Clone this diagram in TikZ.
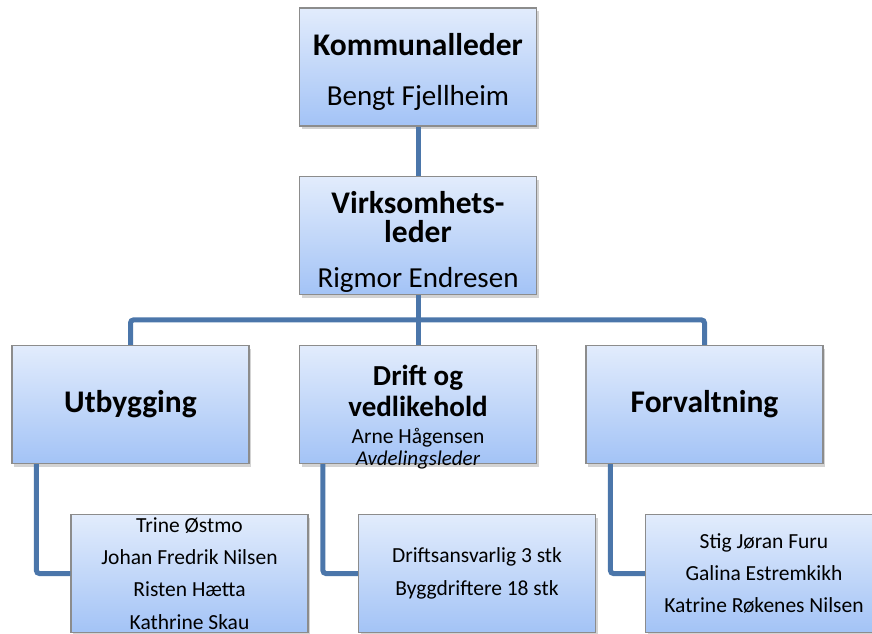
\documentclass[tikz,border=0pt]{standalone}
\usepackage{fontspec}
\setmainfont{Carlito}
\usetikzlibrary{shadows}

\definecolor{linkblue}{RGB}{75,118,170}
\definecolor{boxtop}{RGB}{226,236,252}
\definecolor{boxbottom}{RGB}{163,195,246}
\definecolor{boxedge}{RGB}{140,140,140}

\tikzset{
  box/.style={rectangle, draw=boxedge, line width=1.2pt, top color=boxtop, bottom color=boxbottom,
    minimum width=237pt, minimum height=118pt, align=center, inner sep=0pt,
    drop shadow={shadow xshift=2pt, shadow yshift=-3pt, opacity=0.35}},
  link/.style={draw=linkblue, line width=5pt, rounded corners=3pt},
  headtext/.style={anchor=base, inner sep=0pt, font=\fontsize{31.5}{34}\selectfont\bfseries},
  chieftext/.style={anchor=base, inner sep=0pt, font=\fontsize{29}{32}\selectfont},
  persons/.style={font=\fontsize{21.5}{32.3}\selectfont}
}

\begin{document}
\begin{tikzpicture}[x=1pt, y=-1pt]
  \useasboundingbox (0,0) rectangle (872,633);
  \clip (0,0) rectangle (872,633);

  % boxes
  \node[box] (leader) at (418,67) {};
  \node[box] (virk) at (418,235.5) {};
  \node[box, font=\fontsize{31.5}{34}\selectfont\bfseries] (utb) at (130.5,404.5) {Utbygging};
  \node[box] (drift) at (418,404.5) {};
  \node[box, font=\fontsize{31.5}{34}\selectfont\bfseries] (forv) at (704.5,404.5) {Forvaltning};

  \node[box, persons] (utbsub) at (189.5,573.5) {Trine Østmo\\ Johan Fredrik Nilsen\\ Risten Hætta\\ Kathrine Skau};
  \node[box, persons] (driftsub) at (477,573.5) {Driftsansvarlig 3 stk\\ Byggdriftere 18 stk};
  \node[box, persons] (forvsub) at (764,573.5) {Stig Jøran Furu\\ Galina Estremkikh\\ Katrine Røkenes Nilsen};

  % texts in the upper boxes
  \node[headtext] (leadertitle) at (418,55) {Kommunalleder};
  \node[chieftext] (leadername) at (418,105) {Bengt Fjellheim};
  \node[headtext] (virktitle) at (418,213) {Virksomhets-};
  \node[headtext] (virktitle2) at (418,242) {leder};
  \node[chieftext] (virkname) at (418,287) {Rigmor Endresen};
  \node[headtext, font=\fontsize{29}{32}\selectfont\bfseries] (drifttitle) at (418,385) {Drift og};
  \node[headtext, font=\fontsize{29}{32}\selectfont\bfseries] (drifttitle2) at (418,416) {vedlikehold};
  \node[anchor=base, inner sep=0pt, font=\fontsize{21.5}{24}\selectfont] (driftname) at (418,443) {Arne Hågensen};
  \node[anchor=base, inner sep=0pt, font=\fontsize{21}{24}\selectfont\itshape] (driftrole) at (418,465) {Avdelingsleder};

  % connectors
  \draw[link] (leader.south) -- (virk.north);
  \draw[link] (virk.south) -- (drift.north);
  \draw[link] (utb.north) -- ++(0,-25) -| (forv.north);
  \draw[link] ([xshift=25pt]utb.south west) |- (utbsub.west);
  \draw[link] ([xshift=24pt]drift.south west) |- (driftsub.west);
  \draw[link] ([xshift=25pt]forv.south west) |- (forvsub.west);
\end{tikzpicture}
\end{document}
